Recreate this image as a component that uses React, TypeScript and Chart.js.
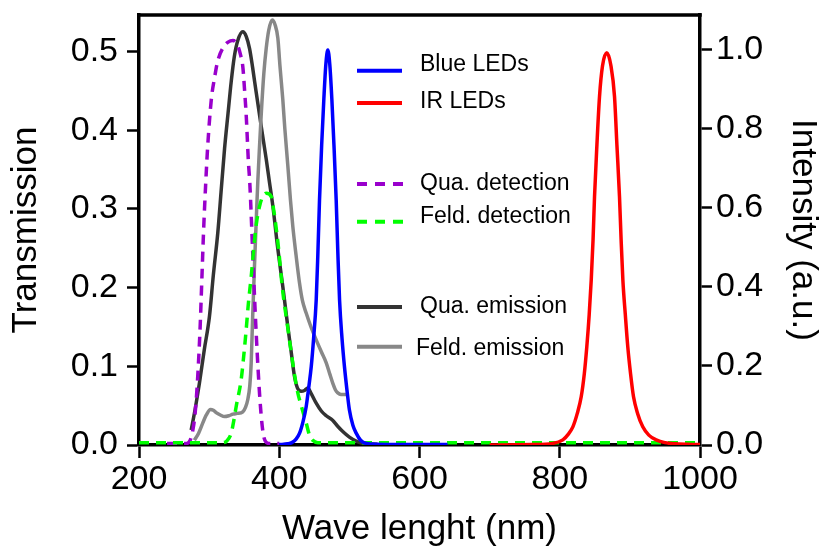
import React, { useEffect, useRef } from 'react';
import { Chart, registerables } from 'chart.js';

Chart.register(...registerables);

// ---- axis ticks ----
const xTickValues = [200, 400, 600, 800, 1000];
const leftTickValues = [0, 0.1, 0.2, 0.3, 0.4, 0.5];
const rightTickValues = [0, 0.2, 0.4, 0.6, 0.8, 1.0];

// ---- Qua. detection (transmission, left axis) ----
const quaDetWl = [240, 268, 273, 277, 280, 283.5, 287, 290, 292, 295, 298, 303, 308, 312, 320, 327, 334, 340, 345, 348, 351, 353, 356, 358, 362, 366, 371, 374, 377, 380, 385, 400];
const quaDetVal = [0.002, 0.002, 0.006, 0.02, 0.04, 0.083, 0.146, 0.22, 0.27, 0.33, 0.38, 0.438, 0.468, 0.487, 0.505, 0.512, 0.514, 0.509, 0.495, 0.481, 0.445, 0.417, 0.36, 0.333, 0.248, 0.163, 0.078, 0.04, 0.015, 0.005, 0.002, 0.002];

// ---- Feld. detection (transmission, left axis) ----
const feldDetWl = [200, 320, 326, 331.5, 335, 338.6, 345.7, 349, 352.8, 356, 360, 364.7, 368, 371.8, 376, 381.4, 388.5, 391, 398, 405, 412, 417, 421.7, 426, 431.3, 438.4, 443, 447.8, 455, 1000];
const feldDetVal = [0.003, 0.003, 0.006, 0.015, 0.03, 0.049, 0.083, 0.11, 0.146, 0.18, 0.214, 0.26, 0.285, 0.303, 0.315, 0.32, 0.316, 0.305, 0.258, 0.195, 0.15, 0.118, 0.09, 0.068, 0.05, 0.028, 0.013, 0.006, 0.003, 0.003];

// ---- Qua. emission (intensity, right axis) ----
const quaEmWl = [274.4, 280, 286.3, 293, 300.5, 306, 312.4, 317, 322, 327, 331.5, 336, 340.9, 348, 353, 357.6, 362, 367, 374, 381.4, 386, 390.8, 398, 405, 412.2, 417, 421.7, 426, 431.3, 436, 440.7, 445, 452.7, 460, 467, 476.4, 483, 490.6, 500, 509.7, 520, 540];
const quaEmVal = [0.038, 0.09, 0.158, 0.24, 0.326, 0.43, 0.538, 0.64, 0.75, 0.84, 0.92, 0.984, 1.024, 1.046, 1.034, 1.004, 0.956, 0.894, 0.81, 0.724, 0.666, 0.606, 0.496, 0.402, 0.3, 0.236, 0.174, 0.144, 0.136, 0.138, 0.144, 0.132, 0.106, 0.086, 0.074, 0.062, 0.048, 0.034, 0.02, 0.01, 0.004, 0.002];

// ---- Feld. emission (intensity, right axis) ----
const feldEmWl = [279, 285, 291, 296, 302, 306, 310, 316, 322, 328, 333.8, 340, 348, 352, 355, 358, 360, 362, 364.7, 367, 369.4, 372, 374.2, 378, 381.4, 385, 389.9, 394, 398, 401, 405, 408, 412.2, 416, 419.3, 424, 428.9, 433, 438.4, 445, 452.7, 460, 467, 472, 476.4, 480, 483.5, 488, 495.5];
const feldEmVal = [0.012, 0.03, 0.056, 0.076, 0.09, 0.088, 0.082, 0.076, 0.072, 0.074, 0.078, 0.08, 0.084, 0.096, 0.114, 0.15, 0.208, 0.32, 0.454, 0.56, 0.666, 0.76, 0.834, 0.94, 1.004, 1.05, 1.076, 1.064, 1.03, 0.96, 0.876, 0.8, 0.708, 0.62, 0.554, 0.48, 0.41, 0.366, 0.334, 0.3, 0.266, 0.236, 0.208, 0.18, 0.156, 0.14, 0.132, 0.128, 0.128];

// ---- Blue LEDs (intensity, right axis) ----
const blueWl = [400, 412, 418, 424, 429, 434, 438.4, 442, 445.6, 449, 452.7, 455, 457.4, 460.5, 463.6, 466.5, 469.3, 472, 475, 478, 481.2, 483.5, 486, 489.5, 493, 496.5, 500, 505, 509.7, 516, 524, 540, 600, 640];
const blueVal = [0.001, 0.003, 0.006, 0.015, 0.03, 0.06, 0.097, 0.145, 0.198, 0.27, 0.367, 0.48, 0.62, 0.76, 0.876, 0.965, 1.0, 0.965, 0.876, 0.76, 0.62, 0.49, 0.367, 0.27, 0.198, 0.14, 0.089, 0.05, 0.03, 0.012, 0.004, 0.002, 0.001, 0.001];

// ---- IR LEDs (intensity, right axis) ----
const irWl = [700, 760, 790, 804.4, 812, 818.7, 825, 830.6, 835, 838.6, 842, 844.9, 847.5, 849.6, 853, 856.7, 861, 867.1, 873, 878.1, 881.5, 885.2, 887.5, 890, 893.5, 897, 901, 905.2, 911, 918.4, 927, 937.5, 950, 965, 1000];
const irVal = [0.0, 0.001, 0.004, 0.013, 0.027, 0.046, 0.08, 0.122, 0.18, 0.249, 0.33, 0.418, 0.52, 0.629, 0.76, 0.882, 0.96, 0.993, 0.96, 0.882, 0.76, 0.629, 0.52, 0.418, 0.33, 0.249, 0.18, 0.122, 0.08, 0.046, 0.025, 0.013, 0.006, 0.003, 0.001];

// ---- legend ----
const legendLabels = ['Blue LEDs', 'IR LEDs', 'Qua. detection', 'Feld. detection', 'Qua. emission', 'Feld. emission'];
const legendColors = ['#0000ff', '#ff0000', '#9900cc', '#00ff00', '#333333', '#888888'];
const legendDashed = [false, false, true, true, false, false];

const FONT = '"Liberation Sans", Arial, Helvetica, sans-serif';

export default function App() {
  const ref = useRef<HTMLCanvasElement>(null);

  useEffect(() => {
    if (!ref.current) return;
    const pts = (xs: number[], ys: number[]) => xs.map((x, i) => ({ x, y: ys[i] }));

    // legend layout (relative to chart area)
    const lineY = [55.7, 88, 169, 206.7, 292, 331.7];
    const textY = [49.5, 86.7, 168.5, 202, 291.5, 333.3];
    const textX = [281, 281, 281, 281, 281, 277];

    const legendPlugin = {
      id: 'customLegend',
      afterDraw(chart: any) {
        const { ctx, chartArea: ca } = chart;
        ctx.save();
        legendLabels.forEach((label, i) => {
          ctx.beginPath();
          ctx.strokeStyle = legendColors[i];
          ctx.lineWidth = 4;
          ctx.lineCap = 'butt';
          ctx.setLineDash(legendDashed[i] ? [10, 8] : []);
          ctx.moveTo(ca.left + 218, ca.top + lineY[i]);
          ctx.lineTo(ca.left + (legendDashed[i] ? 264 : 263), ca.top + lineY[i]);
          ctx.stroke();
          ctx.setLineDash([]);
          ctx.fillStyle = '#000';
          ctx.font = `23px ${FONT}`;
          ctx.textAlign = 'left';
          ctx.textBaseline = 'middle';
          ctx.fillText(label, ca.left + textX[i], ca.top + textY[i]);
        });
        // top frame line
        ctx.beginPath();
        ctx.strokeStyle = '#000';
        ctx.lineWidth = 3.5;
        ctx.moveTo(ca.left - 1.75, ca.top);
        ctx.lineTo(ca.right + 1.75, ca.top);
        ctx.stroke();
        ctx.restore();
      },
    };

    const common = { pointRadius: 0, borderWidth: 3.5, fill: false, cubicInterpolationMode: 'monotone' as const };
    const noPadV = (s: any) => { s.paddingTop = 0; s.paddingBottom = 0; };
    const noPadH = (s: any) => { s.paddingLeft = 0; s.paddingRight = 0; };

    const chart = new Chart(ref.current, {
      type: 'line',
      data: {
        datasets: [
          { ...common, label: 'Qua. emission', data: pts(quaEmWl, quaEmVal), borderColor: '#333333', yAxisID: 'y1', order: 6 },
          { ...common, label: 'Feld. emission', data: pts(feldEmWl, feldEmVal), borderColor: '#888888', yAxisID: 'y1', order: 5 },
          { ...common, label: 'Qua. detection', data: pts(quaDetWl, quaDetVal), borderColor: '#9900cc', borderDash: [10, 7], yAxisID: 'y', order: 4 },
          { ...common, label: 'Feld. detection', data: pts(feldDetWl, feldDetVal), borderColor: '#00ff00', borderDash: [10, 7], yAxisID: 'y', order: 3 },
          { ...common, label: 'Blue LEDs', data: pts(blueWl, blueVal), borderColor: '#0000ff', yAxisID: 'y1', order: 2 },
          { ...common, label: 'IR LEDs', data: pts(irWl, irVal), borderColor: '#ff0000', yAxisID: 'y1', order: 1 },
        ] as any,
      },
      options: {
        animation: false,
        responsive: true,
        maintainAspectRatio: false,
        layout: { padding: { top: 15, left: 0, right: 0, bottom: 0 } },
        plugins: { legend: { display: false }, tooltip: { enabled: false } },
        scales: {
          x: {
            type: 'linear',
            min: 200,
            max: 1000,
            afterBuildTicks: (s: any) => { s.ticks = xTickValues.map((v) => ({ value: v })); },
            afterFit: (s: any) => { s.height = 104; noPadH(s); },
            ticks: { color: '#000', font: { family: FONT, size: 34 }, padding: 1, maxRotation: 0, callback: (v: any) => String(v) },
            grid: { drawOnChartArea: false, drawTicks: true, tickLength: 13, tickWidth: 2.5, tickColor: '#000', color: '#000' },
            border: { display: true, color: '#000', width: 3.5 },
            title: { display: true, text: 'Wave lenght (nm)', color: '#000', font: { family: FONT, size: 35, lineHeight: 1.14 }, padding: 0 },
          },
          y: {
            type: 'linear',
            position: 'left',
            min: 0,
            max: 0.5464,
            afterBuildTicks: (s: any) => { s.ticks = leftTickValues.map((v) => ({ value: v })); },
            afterFit: (s: any) => { s.width = 139; noPadV(s); },
            ticks: { color: '#000', font: { family: FONT, size: 34 }, padding: 9, callback: (v: any) => Number(v).toFixed(1) },
            grid: { drawOnChartArea: false, drawTicks: true, tickLength: 12, tickWidth: 2.5, tickColor: '#000', color: '#000' },
            border: { display: true, color: '#000', width: 3.5 },
            title: { display: true, text: 'Transmission', color: '#000', font: { family: FONT, size: 35, lineHeight: 1.2 }, padding: { top: 5, bottom: 0 } },
          },
          y1: {
            type: 'linear',
            position: 'right',
            min: 0,
            max: 1.0886,
            afterBuildTicks: (s: any) => { s.ticks = rightTickValues.map((v) => ({ value: v })); },
            afterFit: (s: any) => { s.width = 122; noPadV(s); },
            ticks: { color: '#000', font: { family: FONT, size: 34 }, padding: 4, callback: (v: any) => Number(v).toFixed(1) },
            grid: { drawOnChartArea: false, drawTicks: true, tickLength: 12, tickWidth: 2.5, tickColor: '#000', color: '#000' },
            border: { display: true, color: '#000', width: 3.5 },
            title: { display: true, text: 'Intensity (a.u.)', color: '#000', font: { family: FONT, size: 35, lineHeight: 1.1 }, padding: { top: 0, bottom: 0 } },
          },
        },
      } as any,
      plugins: [legendPlugin],
    });
    return () => chart.destroy();
  }, []);

  return (
    <div style={{ position: 'absolute', left: 0, top: 0, width: 822, height: 549, background: '#fff' }}>
      <canvas ref={ref} />
    </div>
  );
}
